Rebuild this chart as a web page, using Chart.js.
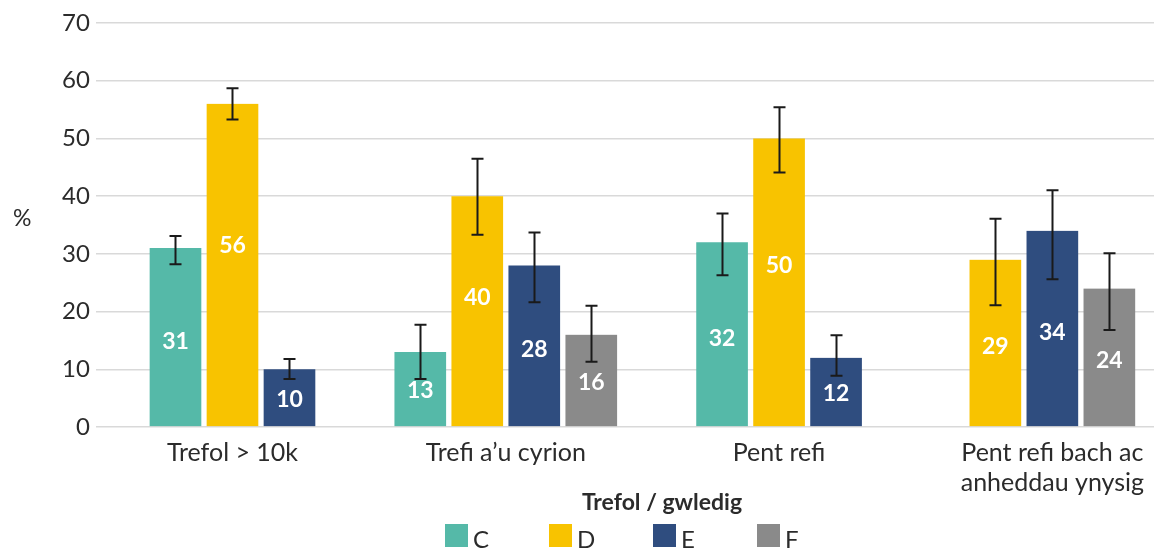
<!DOCTYPE html>
<html>
<head>
<meta charset="utf-8">
<script src="https://cdn.jsdelivr.net/npm/chart.js@4"></script>
<style>
body { margin: 0; overflow: hidden; background: #fff; font-family: Lato, "Open Sans", sans-serif; color: #2b2b2b; }
#wrap { position: relative; width: 1154px; height: 549px; overflow: hidden; }
#chart { position: absolute; left: 0; top: 0; }
#ytitle { position: absolute; left: 13px; top: 203px; font-size: 23px; }
#xtitle { position: absolute; left: 462px; width: 400px; top: 487px; text-align: center; font-size: 23px; font-weight: bold; }
#legend { position: absolute; left: 445px; top: 524px; display: flex; }
.item { width: 104px; display: flex; align-items: flex-start; font-size: 24px; }
.box { width: 23px; height: 23px; margin-right: 5px; }
</style>
</head>
<body>
<div id="wrap">
  <canvas id="chart" width="1190" height="549"></canvas>
  <div id="ytitle">%</div>
  <div id="xtitle">Trefol / gwledig</div>
  <div id="legend"></div>
</div>
<script>
// ---------------- DATA ----------------
const categories = ["Trefol > 10k", "Trefi a’u cyrion", "Pent refi", ["Pent refi bach ac", "anheddau ynysig"]];
const seriesNames = ["C", "D", "E", "F"];

const valuesC = [31, 13, 32, null];
const valuesD = [56, 40, 50, 29];
const valuesE = [10, 28, 12, 34];
const valuesF = [null, 16, null, 24];

// error bars (low / high)
const lowC = [28.2, 8.3, 26.3, null];
const highC = [33.1, 17.7, 37.0, null];
const lowD = [53.3, 33.3, 44.1, 21.1];
const highD = [58.7, 46.5, 55.4, 36.1];
const lowE = [8.3, 21.6, 8.9, 25.6];
const highE = [11.8, 33.7, 15.9, 41.0];
const lowF = [null, 11.3, null, 16.8];
const highF = [null, 21.0, null, 30.1];

const yTicks = [0, 10, 20, 30, 40, 50, 60, 70];

const colors = ["#55b9a8", "#f8c300", "#2f4d7f", "#8a8a8a"];

// ---------------- PLUGINS ----------------
// error bars drawn with the y scale
const errorBars = {
  id: "errorBars",
  afterDatasetsDraw(chart) {
    const ctx = chart.ctx;
    const y = chart.scales.y;
    ctx.save();
    ctx.strokeStyle = "#1a1a1a";
    ctx.lineWidth = 2;
    chart.data.datasets.forEach((ds, i) => {
      const meta = chart.getDatasetMeta(i);
      meta.data.forEach((bar, j) => {
        if (ds.data[j] === null || ds.low[j] === null) return;
        const x = Math.round(bar.x) + 0.5;
        const y1 = y.getPixelForValue(ds.low[j]);
        const y2 = y.getPixelForValue(ds.high[j]);
        ctx.beginPath();
        ctx.moveTo(x, y1);
        ctx.lineTo(x, y2);
        ctx.moveTo(x - 6, y1);
        ctx.lineTo(x + 6, y1);
        ctx.moveTo(x - 6, y2);
        ctx.lineTo(x + 6, y2);
        ctx.stroke();
      });
    });
    ctx.restore();
  }
};

// white value labels inside the bars
const valueLabels = {
  id: "valueLabels",
  afterDatasetsDraw(chart) {
    const ctx = chart.ctx;
    const y = chart.scales.y;
    ctx.save();
    ctx.fillStyle = "#ffffff";
    ctx.font = "bold 23px Lato, 'Open Sans', sans-serif";
    ctx.textAlign = "center";
    ctx.textBaseline = "middle";
    chart.data.datasets.forEach((ds, i) => {
      const meta = chart.getDatasetMeta(i);
      meta.data.forEach((bar, j) => {
        const v = ds.data[j];
        if (v === null) return;
        const pos = v >= 40 ? v * 0.56 : v * 0.48;
        ctx.fillText(String(v), bar.x, y.getPixelForValue(pos));
      });
    });
    ctx.restore();
  }
};

// ---------------- CHART ----------------
const values = [valuesC, valuesD, valuesE, valuesF];
const lows = [lowC, lowD, lowE, lowF];
const highs = [highC, highD, highE, highF];

const fontFamily = "Lato, 'Open Sans', sans-serif";

const chart = new Chart(document.getElementById("chart"), {
  type: "bar",
  data: {
    labels: categories,
    datasets: seriesNames.map((name, i) => ({
      label: name,
      data: values[i],
      low: lows[i],
      high: highs[i],
      backgroundColor: colors[i],
      borderColor: "rgba(0,0,0,0)",
      borderWidth: { left: 3, right: 3, top: 0, bottom: 0 },
      barThickness: 57,
      skipNull: true
    }))
  },
  options: {
    responsive: false,
    animation: false,
    layout: { padding: { left: 56, right: 1, top: 23, bottom: 48 } },
    plugins: {
      legend: { display: false },
      tooltip: { enabled: false }
    },
    scales: {
      x: {
        grid: { display: false },
        border: { display: false },
        ticks: { font: { family: fontFamily, size: 25, lineHeight: 1.2 }, color: "#2b2b2b", padding: 3, maxRotation: 0 }
      },
      y: {
        min: 0,
        max: 70,
        afterBuildTicks: (axis) => { axis.ticks = yTicks.map(v => ({ value: v })); },
        grid: { color: "#d9d9d9", lineWidth: 1.5, drawTicks: false },
        border: { display: false },
        ticks: { font: { family: fontFamily, size: 24 }, color: "#2b2b2b", padding: 6 }
      }
    }
  },
  plugins: [errorBars, valueLabels]
});

// ---------------- LEGEND ----------------
const legend = document.getElementById("legend");
seriesNames.forEach((name, i) => {
  const item = document.createElement("div");
  item.className = "item";
  item.innerHTML = '<span class="box" style="background:' + colors[i] + '"></span>' + name;
  legend.appendChild(item);
});
</script>
</body>
</html>
